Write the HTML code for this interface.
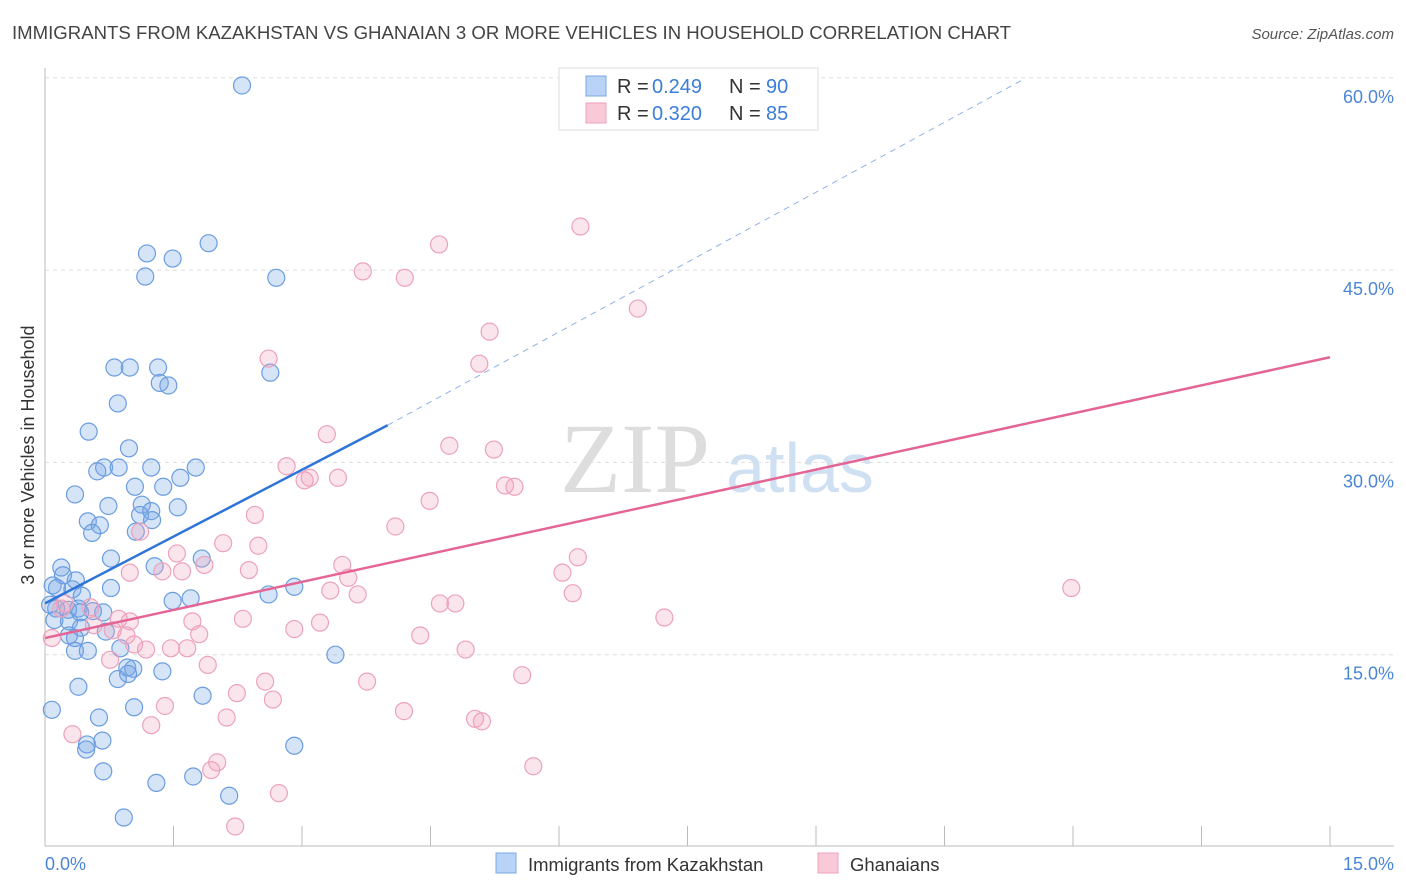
<!DOCTYPE html>
<html><head><meta charset="utf-8"><style>
body{margin:0;background:#fff;font-family:"Liberation Sans",sans-serif;}
svg{display:block}
</style></head><body>
<svg id="chart" width="1406" height="892">
<text x="12" y="39" font-size="18.6" fill="#444">IMMIGRANTS FROM KAZAKHSTAN VS GHANAIAN 3 OR MORE VEHICLES IN HOUSEHOLD CORRELATION CHART</text>
<text x="1394" y="39" font-size="15" fill="#555" font-style="italic" text-anchor="end">Source: ZipAtlas.com</text>
<text x="635" y="492" font-size="100" fill="#ddd" font-family="Liberation Serif,serif" text-anchor="middle">ZIP</text>
<text x="800" y="492" font-size="70" fill="#cfe0f3" text-anchor="middle">atlas</text>
<g id="grid"></g><g id="axes"></g><g id="pts"></g><g id="lines"></g>
<text transform="translate(34,455) rotate(-90)" font-size="18" fill="#333" text-anchor="middle">3 or more Vehicles in Household</text>
<text x="45" y="870" font-size="18" fill="#4a86d8">0.0%</text>
<text x="1394" y="870" font-size="18" fill="#4a86d8" text-anchor="end">15.0%</text>
<g>
<rect x="559" y="68" width="259" height="62" fill="#fff" stroke="#ddd"/>
<rect x="586" y="76" width="20" height="20" fill="#b8d3f5" stroke="#7aaae6"/>
<rect x="586" y="103" width="20" height="20" fill="#f9c9d7" stroke="#eda3bb"/>
<text x="617" y="93" font-size="20" fill="#333">R =</text>
<text x="652" y="93" font-size="20" fill="#3b7dd8">0.249</text>
<text x="729" y="93" font-size="20" fill="#333">N =</text>
<text x="766" y="93" font-size="20" fill="#3b7dd8">90</text>
<text x="617" y="120" font-size="20" fill="#333">R =</text>
<text x="652" y="120" font-size="20" fill="#3b7dd8">0.320</text>
<text x="729" y="120" font-size="20" fill="#333">N =</text>
<text x="766" y="120" font-size="20" fill="#3b7dd8">85</text>
</g>
<g>
<rect x="496" y="853" width="20" height="20" fill="#b8d3f5" stroke="#7aaae6"/>
<text x="528" y="871" font-size="18.5" fill="#333">Immigrants from Kazakhstan</text>
<rect x="818" y="853" width="20" height="20" fill="#f9c9d7" stroke="#eda3bb"/>
<text x="850" y="871" font-size="18.5" fill="#333">Ghanaians</text>
</g>
</svg>
<script>
const yTicks=[15,30,45,60];
const xTicks=[0,1.5,3,4.5,6,7.5,9,10.5,12,13.5,15];
const blueX=[2.30,1.19,1.91,1.49,1.17,2.70,0.81,0.99,1.32,1.34,1.44,2.63,0.85,0.51,0.98,0.69,0.86,0.61,1.24,1.76,1.58,0.35,1.05,1.38,1.13,0.74,1.55,1.24,1.11,1.25,0.50,0.64,0.55,1.06,0.77,1.83,1.28,0.19,0.21,0.36,0.09,0.14,0.32,0.77,2.91,2.61,0.43,1.70,1.49,0.06,0.13,0.39,0.27,0.56,0.41,0.68,0.11,0.28,0.42,0.71,0.28,0.35,0.88,0.35,0.50,3.39,0.96,1.03,1.37,0.97,0.85,0.39,1.84,0.08,1.04,0.63,0.49,0.67,0.48,2.91,0.68,1.73,1.30,2.15,0.92];
const blueY=[59.4,46.3,47.1,45.9,44.5,44.4,37.4,37.4,37.4,36.2,36.0,37.0,34.6,32.4,31.1,29.6,29.6,29.3,29.6,29.6,28.8,27.5,28.1,28.1,26.7,26.6,26.5,26.2,25.9,25.5,25.4,25.1,24.5,24.6,22.5,22.5,21.9,21.8,21.2,20.8,20.4,20.2,20.1,20.2,20.3,19.7,19.6,19.4,19.2,18.9,18.6,18.6,18.5,18.4,18.3,18.3,17.7,17.6,17.1,16.8,16.5,16.3,15.5,15.3,15.3,15.0,14.0,13.9,13.7,13.5,13.1,12.5,11.8,10.7,10.9,10.1,8.0,8.3,7.6,7.9,5.9,5.5,5.0,4.0,2.3];
const pinkX=[6.25,4.60,3.71,4.20,6.92,5.19,5.07,2.61,3.29,4.72,5.24,2.82,3.03,3.09,3.42,5.37,5.48,4.49,2.45,4.09,1.11,2.08,2.49,1.54,6.22,1.86,3.47,1.60,1.37,2.38,0.99,3.54,6.04,11.98,3.33,3.65,6.16,4.61,4.79,0.23,0.19,0.53,7.23,2.31,1.72,0.99,0.86,3.21,0.57,0.79,2.91,0.95,1.80,4.38,0.08,1.04,1.18,1.47,1.66,4.91,0.76,1.90,2.57,5.57,3.76,2.24,2.66,1.40,4.19,2.12,5.02,5.10,1.24,0.32,2.01,1.94,5.70,2.73,2.22];
const pinkY=[48.4,47.0,44.9,44.4,42.0,40.2,37.7,38.1,32.2,31.3,31.0,29.7,28.6,28.8,28.8,28.2,28.1,27.0,25.9,25.0,24.6,23.7,23.5,22.9,22.6,22.0,22.0,21.5,21.5,21.6,21.4,21.0,21.4,20.2,20.0,19.7,19.8,19.0,19.0,19.0,18.6,18.7,17.9,17.8,17.6,17.6,17.8,17.5,17.3,16.9,17.0,16.5,16.6,16.5,16.3,15.8,15.4,15.5,15.5,15.4,14.6,14.2,12.9,13.4,12.9,12.0,11.5,11.0,10.6,10.1,10.0,9.8,9.5,8.8,6.6,6.0,6.3,4.2,1.6];
const blueTrend=[0,19.0,4.0,32.9,11.4,59.8];
const pinkTrend=[0,16.3,15,38.2];
const NS='http://www.w3.org/2000/svg';
const X=v=>45+v/15*1285, Y=v=>847-v/15*192.3;
function mk(p,t,a){const e=document.createElementNS(NS,t);for(const k in a)e.setAttribute(k,a[k]);document.getElementById(p).appendChild(e);return e;}
yTicks.forEach(t=>{
 const l=mk('grid','line',{x1:45,x2:1394,y1:Y(t),y2:Y(t),stroke:'#ddd','stroke-dasharray':'4,4'});
 
 
 const tx=mk('grid','text',{x:1394,y:Y(t)+25,'font-size':18,fill:'#4a86d8','text-anchor':'end'});tx.textContent=t.toFixed(1)+'%';
 
 
});
mk('axes','line',{x1:45,x2:45,y1:68,y2:846,stroke:'#bbb'});
mk('axes','line',{x1:45,x2:1394,y1:846,y2:846,stroke:'#bbb'});
xTicks.forEach(t=>{const l=mk('axes','line',{x1:X(t),x2:X(t),y1:826,y2:846,stroke:'#bbb'});
 
 });
blueX.forEach((v,i)=>{const c=mk('pts','circle',{cx:X(v),cy:Y(blueY[i]),r:8.5,fill:'rgba(120,165,230,0.3)',stroke:'#6a9de0','stroke-width':1.2});
 
 });
pinkX.forEach((v,i)=>{const c=mk('pts','circle',{cx:X(v),cy:Y(pinkY[i]),r:8.5,fill:'rgba(242,160,185,0.28)',stroke:'#eca2bb','stroke-width':1.2});
 
 });
const b1=mk('lines','line',{x1:X(blueTrend[0]),y1:Y(blueTrend[1]),x2:X(blueTrend[2]),y2:Y(blueTrend[3]),stroke:'#2f74d8','stroke-width':2.5});


const b2=mk('lines','line',{x1:X(blueTrend[2]),y1:Y(blueTrend[3]),x2:X(blueTrend[4]),y2:Y(blueTrend[5]),stroke:'#8fb3e6','stroke-width':1,'stroke-dasharray':'6,5'});


const p1=mk('lines','line',{x1:X(pinkTrend[0]),y1:Y(pinkTrend[1]),x2:X(pinkTrend[2]),y2:Y(pinkTrend[3]),stroke:'#e46595','stroke-width':2.5});


</script>
</body></html>
